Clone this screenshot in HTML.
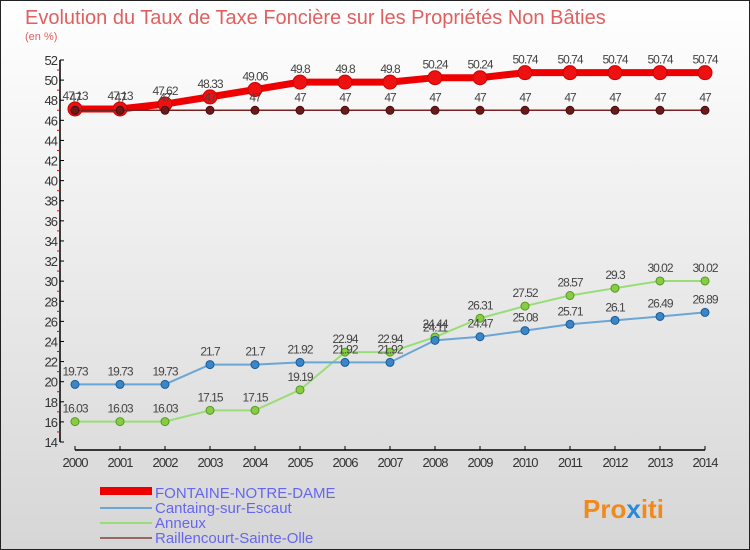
<!DOCTYPE html>
<html><head><meta charset="utf-8"><style>
html,body{margin:0;padding:0}
body{width:750px;height:550px;overflow:hidden;font-family:"Liberation Sans",sans-serif}
svg{display:block}
</style></head><body>
<svg width="750" height="550" id="chart" font-family="Liberation Sans, sans-serif">
<defs><linearGradient id="bg" x1="0" y1="0" x2="0" y2="1"><stop offset="0" stop-color="#ffffff"/><stop offset="1" stop-color="#d6d6d6"/></linearGradient></defs>
<rect x="0.5" y="0.5" width="749" height="549" fill="url(#bg)" stroke="#222"/>
<text x="25" y="24" font-size="20" fill="#e06060">Evolution du Taux de Taxe Foncière sur les Propriétés Non Bâties</text>
<text x="25" y="40" font-size="11" fill="#e06060">(en %)</text>
<g id="axes"></g><g id="series"></g>
<g id="legend">
<rect x="100" y="487" width="52" height="8" fill="#ee0000"/>
<text x="155" y="498" font-size="15" fill="#6666ee">FONTAINE-NOTRE-DAME</text>
<rect x="100" y="507" width="52" height="2" fill="#6aa6d6"/>
<text x="155" y="513" font-size="15" fill="#6666ee">Cantaing-sur-Escaut</text>
<rect x="100" y="522" width="52" height="2" fill="#99dd77"/>
<text x="155" y="528" font-size="15" fill="#6666ee">Anneux</text>
<rect x="100" y="537" width="52" height="2" fill="#996666"/>
<text x="155" y="543" font-size="15" fill="#6666ee">Raillencourt-Sainte-Olle</text>
</g>
<text x="583" y="518" font-size="26" font-weight="bold" fill="#f08a1c">Pro<tspan fill="#2a8ad8">x</tspan>iti</text>
</svg>
<script>
const years=[2000,2001,2002,2003,2004,2005,2006,2007,2008,2009,2010,2011,2012,2013,2014];
const fontaine=[47.13,47.13,47.62,48.33,49.06,49.8,49.8,49.8,50.24,50.24,50.74,50.74,50.74,50.74,50.74];
const cantaing=[19.73,19.73,19.73,21.7,21.7,21.92,21.92,21.92,24.11,24.47,25.08,25.71,26.1,26.49,26.89];
const anneux=[16.03,16.03,16.03,17.15,17.15,19.19,22.94,22.94,24.44,26.31,27.52,28.57,29.3,30.02,30.02];
const raillencourt=[47,47,47,47,47,47,47,47,47,47,47,47,47,47,47];
const yTicks=[14,16,18,20,22,24,26,28,30,32,34,36,38,40,42,44,46,48,50,52];
const NS="http://www.w3.org/2000/svg";
const X=i=>75+i*45.0;
const Y=v=>442-(v-14)*(382/38);
function mk(tag,attrs,parent){const e=document.createElementNS(NS,tag);for(const k in attrs)e.setAttribute(k,attrs[k]);parent.appendChild(e);return e;}
const axes=document.getElementById('axes'),ser=document.getElementById('series');
let yl=mk('line',{x1:60,y1:Y(52),x2:60,y2:Y(14),stroke:'#000','stroke-width':1.5},axes);


yTicks.forEach(t=>{
 mk('line',{x1:60,y1:Y(t),x2:64,y2:Y(t),stroke:'#000'},axes);
 if(t<52)mk('line',{x1:57,y1:Y(t+1),x2:60,y2:Y(t+1),stroke:'#e00'},axes);
 const tx=mk('text',{x:57,y:Y(t)+5,'font-size':13,'text-anchor':'end',fill:'#333','letter-spacing':'-1'},axes);
 tx.textContent=t;
 
 
});
let xl=mk('line',{x1:X(0),y1:450,x2:X(years.length-1),y2:450,stroke:'#000','stroke-width':1.5},axes);


years.forEach((yr,i)=>{
 mk('line',{x1:X(i),y1:446,x2:X(i),y2:450,stroke:'#000'},axes);
 const tx=mk('text',{x:X(i),y:467,'font-size':13,'text-anchor':'middle',fill:'#333','letter-spacing':'-1'},axes);
 tx.textContent=yr;
 
 
});
function series(vals,name,color,lw,r,dotFill,dotStroke){
 const g=mk('g',{},ser);
 
 
 const p=mk('polyline',{points:vals.map((v,i)=>X(i)+','+Y(v)).join(' '),fill:'none',stroke:color,'stroke-width':lw,'stroke-linejoin':'round'},g);
 
 
 vals.forEach((v,i)=>{
  const c=mk('circle',{cx:X(i),cy:Y(v),r:r,fill:dotFill,stroke:dotStroke,'stroke-width':1},g);
  
  
  const t=mk('text',{x:X(i),y:Y(v)-9,'font-size':12,'text-anchor':'middle',fill:'#444','letter-spacing':'-1'},g);
  t.textContent=String(v);
  
  
 });
}
series(anneux,'anneux','#99dd77',2,4,'#88cc44','#559922');
series(cantaing,'cantaing','#6aa6d6',2,4,'#3a86c6','#1a5a96');
series(fontaine,'fontaine','#ee0000',7,7,'#ee1111','#cc0000');
series(raillencourt,'raillencourt','#7a2222',1.5,4,'#6a1a1a','#4a0a0a');
</script>
</body></html>
